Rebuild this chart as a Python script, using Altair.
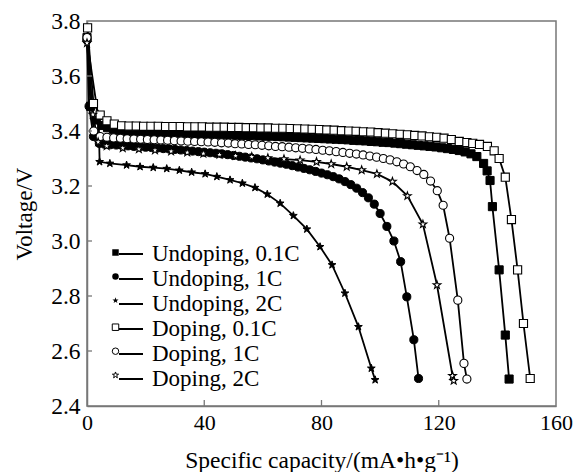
import altair as alt
import pandas as pd

series_names = ["Undoping, 0.1C", "Undoping, 1C", "Undoping, 2C",
                "Doping, 0.1C", "Doping, 1C", "Doping, 2C"]

x_ticks = [0, 40, 80, 120, 160]
y_ticks = [2.4, 2.6, 2.8, 3.0, 3.2, 3.4, 3.6, 3.8]
x_inner_ticks = [40, 80, 120]
y_inner_ticks = [2.6, 2.8, 3.0, 3.2, 3.4, 3.6]

# Undoping, 0.1C
us01_x = [0.0, 1.2, 3.0,
          5, 7, 9, 11, 13, 15, 17, 19, 21, 23,
          25, 27, 29, 31, 33, 35, 37, 39, 41, 43,
          45, 47, 49, 51, 53, 55, 57, 59, 61, 63,
          65, 67, 69, 71, 73, 75, 77, 79, 81, 83,
          85, 87, 89, 91, 93, 95, 97, 99, 101, 103,
          105, 107, 109, 111, 113, 115, 117, 119, 121, 123,
          125, 127, 129, 131, 133,
          135.3, 136.5, 137.5, 138.3, 140.6, 142.7, 144.0]
us01_v = [3.74, 3.49, 3.44,
          3.420, 3.412, 3.406, 3.402, 3.400, 3.399, 3.398, 3.397, 3.396, 3.395,
          3.394, 3.393, 3.393, 3.392, 3.391, 3.391, 3.390, 3.389, 3.389, 3.388,
          3.387, 3.386, 3.386, 3.385, 3.384, 3.384, 3.383, 3.382, 3.381, 3.381,
          3.380, 3.379, 3.378, 3.377, 3.376, 3.375, 3.374, 3.373, 3.372, 3.371,
          3.370, 3.369, 3.368, 3.366, 3.365, 3.364, 3.362, 3.361, 3.359, 3.358,
          3.356, 3.354, 3.352, 3.350, 3.348, 3.346, 3.344, 3.342, 3.339, 3.336,
          3.333, 3.329, 3.324, 3.317, 3.307,
          3.282, 3.255, 3.220, 3.125, 2.895, 2.658, 2.498]

# Undoping, 1C
us1_x = [0.0, 0.7, 2.2, 4.2,
         6, 8, 10, 12, 14, 16, 18, 20, 22, 24,
         26, 28, 30, 32, 34, 36, 38, 40, 42, 44,
         46, 48, 50, 52, 54, 56, 58, 60, 62, 64,
         66, 68, 70, 72, 74, 76, 78, 80, 82, 84,
         86, 88, 90, 92, 94, 96, 98, 100,
         102.3, 104.7, 107.0, 109.1, 111.5, 113.1]
us1_v = [3.73, 3.49, 3.38, 3.355,
         3.352, 3.350, 3.349, 3.347, 3.346, 3.344, 3.343, 3.341, 3.340, 3.338,
         3.336, 3.335, 3.333, 3.331, 3.329, 3.327, 3.325, 3.323, 3.321, 3.319,
         3.317, 3.314, 3.311, 3.308, 3.305, 3.302, 3.299, 3.295, 3.291, 3.287,
         3.283, 3.279, 3.274, 3.269, 3.264, 3.259, 3.253, 3.247, 3.241, 3.234,
         3.226, 3.216, 3.205, 3.192, 3.176, 3.157, 3.134, 3.100,
         3.053, 3.000, 2.925, 2.797, 2.641, 2.500]

# Undoping, 2C
us2_x = [0.0, 4.0, 4.3, 7.8, 13.5, 18.1, 22.6, 27.2, 31.5, 35.7, 40.3, 44.3, 48.8,
         53.0, 57.3, 61.5, 65.9, 70.4, 75.0, 79.5, 83.6, 88.0, 92.6, 97.0, 98.3]
us2_v = [3.73, 3.44, 3.288, 3.282, 3.276, 3.270, 3.267, 3.263, 3.257, 3.250, 3.244, 3.234, 3.222,
         3.210, 3.194, 3.170, 3.137, 3.092, 3.043, 2.979, 2.913, 2.810, 2.688, 2.537, 2.495]

# Doping, 0.1C
ds01_x = [0.2, 2.2, 4.5, 6.8, 9.3, 11.8,
          14.3, 16.8, 19.3, 21.8, 24.3, 26.8, 29.3, 31.8, 34.3, 36.8,
          39.3, 41.8, 44.3, 46.8, 49.3, 51.8, 54.3, 56.8, 59.3, 61.8,
          64.3, 66.8, 69.3, 71.8, 74.3, 76.8, 79.3, 81.8, 84.3, 86.8,
          89.3, 91.8, 94.3, 96.8, 99.3, 101.8, 104.3, 106.8, 109.3, 111.8,
          114.3, 116.8, 119.3, 121.8, 124.3,
          127.0, 129.6, 131.6, 133.9, 136.6, 138.9, 140.6, 142.7, 144.8, 146.9, 148.9, 151.2]
ds01_v = [3.775, 3.50, 3.458, 3.437, 3.425, 3.419,
          3.418, 3.418, 3.417, 3.417, 3.417, 3.416, 3.416, 3.416, 3.415, 3.415,
          3.415, 3.414, 3.414, 3.414, 3.413, 3.413, 3.412, 3.412, 3.411, 3.411,
          3.410, 3.410, 3.409, 3.408, 3.407, 3.406, 3.405, 3.404, 3.403, 3.401,
          3.400, 3.399, 3.397, 3.396, 3.394, 3.392, 3.390, 3.388, 3.386, 3.384,
          3.382, 3.379, 3.377, 3.374, 3.369,
          3.362, 3.358, 3.355, 3.351, 3.344, 3.328, 3.300, 3.232, 3.078, 2.895, 2.700, 2.500]

# Doping, 1C
ds1_x = [0.0, 2.3, 4.5,
         6.8, 9.1, 11.4, 13.7, 16.0, 18.3, 20.6, 22.9, 25.2, 27.5,
         29.8, 32.1, 34.4, 36.7, 39.0, 41.3, 43.6, 45.9, 48.2, 50.5,
         52.8, 55.1, 57.4, 59.7, 62.0, 64.3, 66.6, 68.9, 71.2, 73.5,
         75.8, 78.1, 80.4, 82.7, 85.0, 87.3, 89.6, 91.9, 94.2, 96.5,
         98.8, 101.1, 103.4, 105.7, 108.0, 110.3, 112.6, 114.9, 117.2, 119.5,
         121.5, 123.7, 126.5, 128.6, 129.6]
ds1_v = [3.74, 3.40, 3.38,
         3.377, 3.375, 3.374, 3.372, 3.371, 3.370, 3.369, 3.368, 3.367, 3.366,
         3.365, 3.364, 3.363, 3.362, 3.361, 3.360, 3.359, 3.357, 3.356, 3.354,
         3.353, 3.351, 3.350, 3.348, 3.346, 3.344, 3.343, 3.341, 3.339, 3.337,
         3.335, 3.333, 3.330, 3.328, 3.325, 3.322, 3.319, 3.316, 3.313, 3.309,
         3.305, 3.300, 3.295, 3.288, 3.280, 3.270, 3.256, 3.242, 3.218, 3.183,
         3.130, 3.010, 2.785, 2.555, 2.498]

# Doping, 2C
ds2_x = [0.0, 2.0, 3.8, 6.7, 12.2, 17.7, 23.2, 28.7, 34.2, 39.7, 45.2, 50.7, 56.2, 61.7,
         67.2, 72.7, 78.3, 83.3, 88.6, 93.7, 98.9, 104.2, 109.3, 114.6, 119.4, 124.7, 125.1]
ds2_v = [3.72, 3.46, 3.36, 3.345, 3.338, 3.334, 3.330, 3.326, 3.322, 3.318, 3.314, 3.310, 3.306, 3.302,
         3.298, 3.294, 3.288, 3.280, 3.270, 3.258, 3.244, 3.216, 3.164, 3.061, 2.840, 2.510, 2.492]

all_series = [(series_names[0], us01_x, us01_v),
              (series_names[1], us1_x, us1_v),
              (series_names[2], us2_x, us2_v),
              (series_names[3], ds01_x, ds01_v),
              (series_names[4], ds1_x, ds1_v),
              (series_names[5], ds2_x, ds2_v)]

# line-legend labels get a trailing space so Vega-Lite keeps the legends apart
line_names = [n + " " for n in series_names]
filled_names = series_names[:3]
open_names = series_names[3:]

rows = []
for (name, xs, vs), lname in zip(all_series, line_names):
    for xv, vv in zip(xs, vs):
        rows.append({"series": name, "series_l": lname, "cap": xv, "volt": vv})
df = pd.DataFrame(rows)
df_filled = df[df["series"].isin(filled_names)]
df_open = df[df["series"].isin(open_names)]

FONT = "Liberation Serif"
AXIS_GRAY = "#777777"
W, H = 469, 385
LEG_FS = 23
LEG_PAD = 0
LEG_Y = 220
LEG_PITCH = 24.9

star = ("M0,-1L0.235,-0.324L0.951,-0.309L0.38,0.124L0.588,0.809L0,0.4"
        "L-0.588,0.809L-0.38,0.124L-0.951,-0.309L-0.235,-0.324Z")

xscale = alt.Scale(domain=[0, 160], nice=False, zero=False)
yscale = alt.Scale(domain=[2.4, 3.8], nice=False, zero=False)

xaxis = alt.Axis(values=x_ticks, format="d", title="Specific capacity/(mA•h•g⁻¹)",
                 ticks=False, tickSize=0, labelPadding=6, labelFontSize=22, labelFlush=False,
                 titleFontSize=23.5, titleY=61, titleBaseline="alphabetic")
yaxis = alt.Axis(values=y_ticks, format=".1f", title="Voltage/V",
                 ticks=False, tickSize=0, labelPadding=7, labelFontSize=23.5, labelFlush=False,
                 titleFontSize=23, titleX=-62.5, titleY=H / 2,
                 titleBaseline="middle", titleAlign="center")

X = alt.X("cap:Q", scale=xscale, axis=xaxis)
Y = alt.Y("volt:Q", scale=yscale, axis=yaxis)

filled_legend = alt.Legend(orient="none", legendX=17, legendY=LEG_Y, title=None, padding=0,
                           symbolSize=42, symbolStrokeWidth=1, symbolStrokeColor="black",
                           symbolFillColor="black",
                           labelFont=FONT, labelFontSize=LEG_FS, labelExpr="' '",
                           labelLimit=300, rowPadding=LEG_PAD)
# no symbolStrokeColor here, so the legend keeps the mark's own black outline
open_legend = alt.Legend(orient="none", legendX=17, legendY=LEG_Y + 3 * LEG_PITCH,
                         title=None, padding=0,
                         symbolSize=42, symbolStrokeWidth=1,
                         labelFont=FONT, labelFontSize=LEG_FS, labelExpr="' '",
                         labelLimit=300, rowPadding=LEG_PAD)

line_legend = alt.Legend(orient="none", legendX=31, legendY=LEG_Y, title=None, padding=0,
                         symbolType="stroke", symbolSize=576, symbolStrokeWidth=2,
                         symbolStrokeColor="black",
                         labelFont=FONT, labelFontSize=LEG_FS, labelColor="black",
                         labelOffset=8, labelLimit=300, rowPadding=LEG_PAD)

lines = alt.Chart(df).mark_line(strokeWidth=1.8).encode(
    x=X, y=Y,
    stroke=alt.Stroke("series_l:N",
                      scale=alt.Scale(domain=line_names, range=["black"] * 6),
                      legend=line_legend),
)

points_filled = alt.Chart(df_filled).mark_point(
    filled=True, color="black", stroke="black", strokeWidth=1, size=66, opacity=1).encode(
    x=X, y=Y,
    shape=alt.Shape("series:N",
                    scale=alt.Scale(domain=filled_names, range=["square", "circle", star]),
                    legend=filled_legend),
)

points_open = alt.Chart(df_open).mark_point(
    filled=False, color="black", fill="white", fillOpacity=1, size=66,
    strokeWidth=1.1, opacity=1).encode(
    x=X, y=Y,
    shape=alt.Shape("series_o:N",
                    scale=alt.Scale(domain=open_names, range=["square", "circle", star]),
                    legend=open_legend),
).transform_calculate(series_o="datum.series")

xt_df = pd.DataFrame({"cap": x_inner_ticks})
yt_df = pd.DataFrame({"volt": y_inner_ticks})

xtick_rules = alt.Chart(xt_df).mark_rule(color=AXIS_GRAY, strokeWidth=1.3).encode(
    x=X, y=alt.value(H), y2=alt.value(H - 6))
ytick_rules = alt.Chart(yt_df).mark_rule(color=AXIS_GRAY, strokeWidth=1.3).encode(
    y=Y, x=alt.value(0), x2=alt.value(5))

chart = alt.layer(lines, points_filled, points_open, xtick_rules, ytick_rules).properties(
    width=W, height=H,
    background="white",
    autosize=alt.AutoSizeParams(type="none"),
    padding={"left": 87, "top": 21, "right": 17, "bottom": 66},
).resolve_scale(
    shape="independent"
).resolve_legend(
    shape="independent"
).configure_view(
    stroke=AXIS_GRAY, strokeWidth=1.5
).configure_axis(
    domainColor=AXIS_GRAY, domainWidth=1.5, labelFont=FONT, titleFont=FONT,
    labelColor="black", titleColor="black", titleFontWeight="normal", grid=False
).configure_legend(
    labelFont=FONT
)

chart.save("out.html", embed_options={"renderer": "svg", "actions": False})
